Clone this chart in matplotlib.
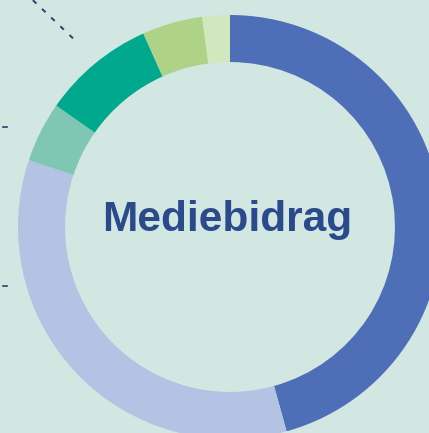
import matplotlib.pyplot as plt

# shares of the donut, clockwise from 12 o'clock
labels = ["A", "B", "C", "D", "E", "F"]
values = [45.7, 34.4, 4.6, 8.6, 4.6, 2.1]
colors = ["#4e6fb8", "#b4c3e3", "#7fc7b3", "#00a98e", "#aed386", "#d1e7bd"]

bg = "#d2e7e1"

fig = plt.figure(figsize=(4.29, 4.33), dpi=100, facecolor=bg)
ax = fig.add_axes([0, 0, 1, 1])
ax.set_facecolor(bg)

ax.pie(values, colors=colors, startangle=90, counterclock=False, radius=1.0,
       wedgeprops=dict(width=0.222, linewidth=0))

ax.text(-0.015, 0.035, "Mediebidrag", ha="center", va="center",
        fontsize=30.5, fontweight="bold", color="#2b4a8b", family="Liberation Sans")

# leader lines pointing to labels outside the crop
ax.plot([-0.93, -0.73], [1.07, 0.88], color="#2b3f6b", lw=1.4, ls=(0, (2.5, 4)))
ax.plot([-1.072, -1.052], [0.47, 0.47], color="#2b3f6b", lw=1.2)
ax.plot([-1.072, -1.052], [-0.28, -0.28], color="#2b3f6b", lw=1.2)

ax.set_xlim(-230 / 212, 199 / 212)
ax.set_ylim(-206 / 212, 227 / 212)
ax.set_aspect("auto")
ax.axis("off")

fig.savefig("out.png", dpi=100, facecolor=bg)
